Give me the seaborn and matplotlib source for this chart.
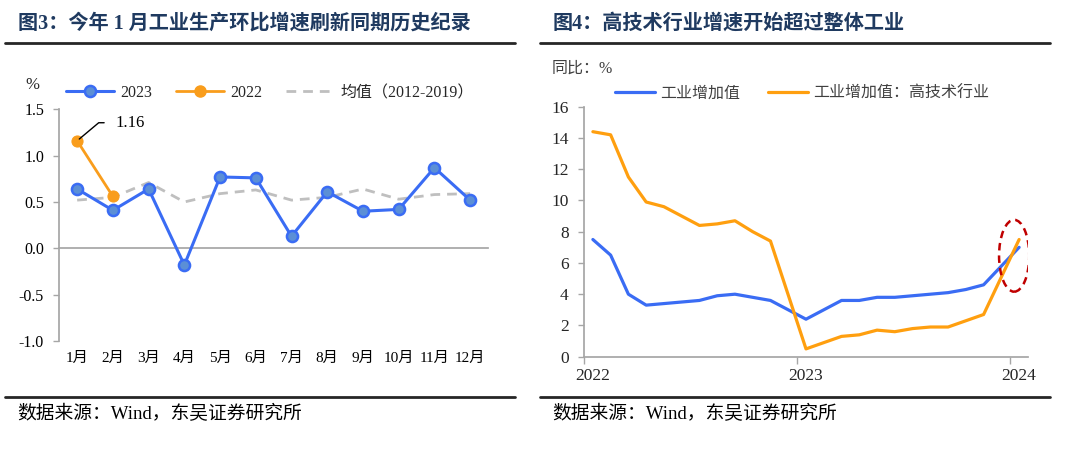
import matplotlib
matplotlib.use('Agg')
import matplotlib.pyplot as plt
from matplotlib.patches import Ellipse
from matplotlib.lines import Line2D
import seaborn as sns
import pandas as pd
import numpy as np

# ---- data: left chart (month-on-month, %)
months_cn = ['1月', '2月', '3月', '4月', '5月', '6月', '7月', '8月', '9月', '10月', '11月', '12月']
mom_2023 = [0.64, 0.41, 0.64, -0.18, 0.77, 0.76, 0.13, 0.61, 0.40, 0.42, 0.87, 0.52]
mom_2022 = [1.16, 0.56]
mom_avg = [0.52, 0.55, 0.71, 0.50, 0.59, 0.63, 0.52, 0.55, 0.64, 0.53, 0.58, 0.59]

# ---- data: right chart (cumulative yoy, %), Jan merged into Feb
periods = [p for p in pd.period_range('2022-02', '2024-02', freq='M') if p.month != 1]
va_total = [7.5, 6.5, 4.0, 3.3, 3.4, 3.5, 3.6, 3.9, 4.0, 3.8, 3.6,
            2.4, 3.0, 3.6, 3.6, 3.8, 3.8, 3.9, 4.0, 4.1, 4.3, 4.6,
            7.0]
va_hitech = [14.4, 14.2, 11.5, 9.9, 9.6, 9.0, 8.4, 8.5, 8.7, 8.0, 7.4,
             0.5, 0.9, 1.3, 1.4, 1.7, 1.6, 1.8, 1.9, 1.9, 2.3, 2.7,
             7.5]
year_labels = ['2022', '2023', '2024']

sns.set_theme(style='white')
plt.rcParams['font.family'] = ['Liberation Serif', 'Noto Sans CJK SC', 'DejaVu Sans']
plt.rcParams['axes.unicode_minus'] = False

BLUE = '#3A6CF4'
MFACE = '#5B8FD6'
ORANGE = '#F99D1C'
ORANGE_R = '#FF9F0F'
GRAY = '#BFBFBF'
SPINE = '#A6A6A6'
NAVY = '#1F3A60'
TXT = '#262626'

fig = plt.figure(figsize=(10.8, 4.63), dpi=100)

# ================= left chart =================
ax1 = fig.add_axes([59.3 / 1080, 1 - 341 / 463, (488 - 59.3) / 1080, (341 - 109.3) / 463])
x1 = np.arange(len(months_cn))
df1 = pd.DataFrame({'x': x1, 'v2023': mom_2023, 'avg': mom_avg})
df2 = pd.DataFrame({'x': x1[:len(mom_2022)], 'v2022': mom_2022})

sns.lineplot(data=df1, x='x', y='avg', ax=ax1, color=GRAY, lw=2, dashes=False,
             linestyle=(0, (3.5, 2.5)), zorder=2)
sns.lineplot(data=df2, x='x', y='v2022', ax=ax1, color=ORANGE, lw=2, marker='o',
             markersize=8, markerfacecolor=ORANGE, markeredgecolor=ORANGE, zorder=3)
sns.lineplot(data=df1, x='x', y='v2023', ax=ax1, color=BLUE, lw=2.2, marker='o',
             markersize=8, markerfacecolor=MFACE, markeredgecolor=BLUE,
             markeredgewidth=1.8, zorder=4)

ax1.set_xlim(-0.5, 11.5)
ax1.set_ylim(-1.0, 1.5)
ax1.set_yticks(np.arange(-1.0, 1.51, 0.5))
ax1.set_yticklabels([f'{v:.1f}' for v in np.arange(-1.0, 1.51, 0.5)])
ax1.set_xlabel('')
ax1.set_ylabel('')
for s in ['top', 'right']:
    ax1.spines[s].set_visible(False)
ax1.spines['left'].set_color(SPINE)
ax1.spines['bottom'].set_color(SPINE)
ax1.spines['bottom'].set_position(('data', 0))
ax1.set_xticks(np.arange(0.5, 12, 1.0))
ax1.set_xticklabels([])
ax1.tick_params(axis='x', direction='out', length=4, color=SPINE, width=1)
ax1.tick_params(axis='y', direction='out', length=4, color=SPINE, width=1,
                pad=7, labelsize=11.5, labelcolor='black', left=True)
sec = ax1.secondary_xaxis('bottom')
sec.set_xticks(x1)
sec.set_xticklabels(months_cn)
sec.tick_params(length=0, pad=8, labelsize=11, labelcolor='black')
sec.spines['bottom'].set_visible(False)

ax1.annotate('1.16', xy=(0, mom_2022[0]), xytext=(1.08, 1.355), ha='left', va='center',
             fontsize=12, color='black',
             arrowprops=dict(arrowstyle='-', color='black', lw=1,
                             connectionstyle='angle,angleA=180,angleB=40,rad=0',
                             shrinkA=6, shrinkB=2))

h1 = [Line2D([], [], color=BLUE, lw=2.2, marker='o', markersize=8,
             markerfacecolor=MFACE, markeredgecolor=BLUE, markeredgewidth=1.8),
      Line2D([], [], color=ORANGE, lw=2, marker='o', markersize=8,
             markerfacecolor=ORANGE, markeredgecolor=ORANGE),
      Line2D([], [], color=GRAY, lw=2, linestyle=(0, (3.5, 2.5)))]
fig.legend(h1, ['2023', '2022', '均值（2012-2019）'], ncol=3, loc='center left',
           bbox_to_anchor=(66 / 1080, 1 - 93 / 463), frameon=False, fontsize=11.5,
           handlelength=3.0, handletextpad=0.4, columnspacing=1.5,
           borderpad=0, borderaxespad=0)
fig.text(25 / 1080, 1 - 85 / 463, '%', fontsize=12, color=TXT, va='center')

# ================= right chart =================
ax2 = fig.add_axes([584 / 1080, 1 - 356.7 / 463, (1028 - 584) / 1080, (356.7 - 106.7) / 463])
xm = [(p.year - 2022) * 12 + p.month - 1 for p in periods]
df3 = pd.DataFrame({'x': xm, 'total': va_total, 'hitech': va_hitech})
sns.lineplot(data=df3, x='x', y='total', ax=ax2, color=BLUE, lw=2.3, zorder=3)
sns.lineplot(data=df3, x='x', y='hitech', ax=ax2, color=ORANGE_R, lw=2.3, zorder=3)

ax2.set_xlim(0.5, 25.5)
ax2.set_ylim(0, 16)
ax2.set_yticks(range(0, 17, 2))
ax2.set_xlabel('')
ax2.set_ylabel('')
for s in ['top', 'right']:
    ax2.spines[s].set_visible(False)
ax2.spines['left'].set_color(SPINE)
ax2.spines['bottom'].set_color(SPINE)
ax2.set_xticks([1, 13, 25])
ax2.set_xticklabels(year_labels)
ax2.set_xticks([0.5, 12.5, 24.5], minor=True)
ax2.tick_params(axis='x', which='major', length=0, pad=8, labelsize=12.5, labelcolor=TXT)
ax2.tick_params(axis='x', which='minor', direction='out', length=5, color=SPINE,
                width=1, bottom=True)
ax2.tick_params(axis='y', direction='out', length=4, color=SPINE, width=1, pad=7,
                labelsize=12.5, labelcolor=TXT, left=True)

ax2.add_patch(Ellipse((24.72, 6.46), 1.7, 4.6, fill=False, ls=(0, (3, 2)),
                      ec='#C00000', lw=1.8, zorder=5))

h2 = [Line2D([], [], color=BLUE, lw=2.3), Line2D([], [], color=ORANGE_R, lw=2.3)]
fig.legend(h2, ['工业增加值', '工业增加值：高技术行业'], ncol=2, loc='center left',
           bbox_to_anchor=(615 / 1080, 1 - 94 / 463), frameon=False, fontsize=11.5,
           handlelength=2.5, handletextpad=0.3, columnspacing=1.8,
           borderpad=0, borderaxespad=0, labelcolor='#404040')
fig.text(552 / 1080, 1 - 69 / 463, '同比：%', fontsize=11.5, color='#404040', va='center')

# ================= titles, rules, source =================
fig.text(18 / 1080, 1 - 24 / 463, '图3：今年 1 月工业生产环比增速刷新同期历史纪录',
         fontsize=14.5, fontweight='bold', color=NAVY, va='center')
fig.text(553 / 1080, 1 - 24 / 463, '图4：高技术行业增速开始超过整体工业',
         fontsize=14.5, fontweight='bold', color=NAVY, va='center')
for (xa, xb) in [(5, 515), (540, 1050)]:
    for yy in [42.7, 396.7]:
        fig.add_artist(Line2D([xa / 1080, xb / 1080], [1 - yy / 463, 1 - yy / 463],
                              color=TXT, lw=2))
fig.text(17 / 1080, 1 - 414 / 463, '数据来源：Wind，东吴证券研究所', fontsize=13.5,
         color='black', va='center')
fig.text(552 / 1080, 1 - 414 / 463, '数据来源：Wind，东吴证券研究所', fontsize=13.5,
         color='black', va='center')

fig.savefig('out.png', dpi=100)
